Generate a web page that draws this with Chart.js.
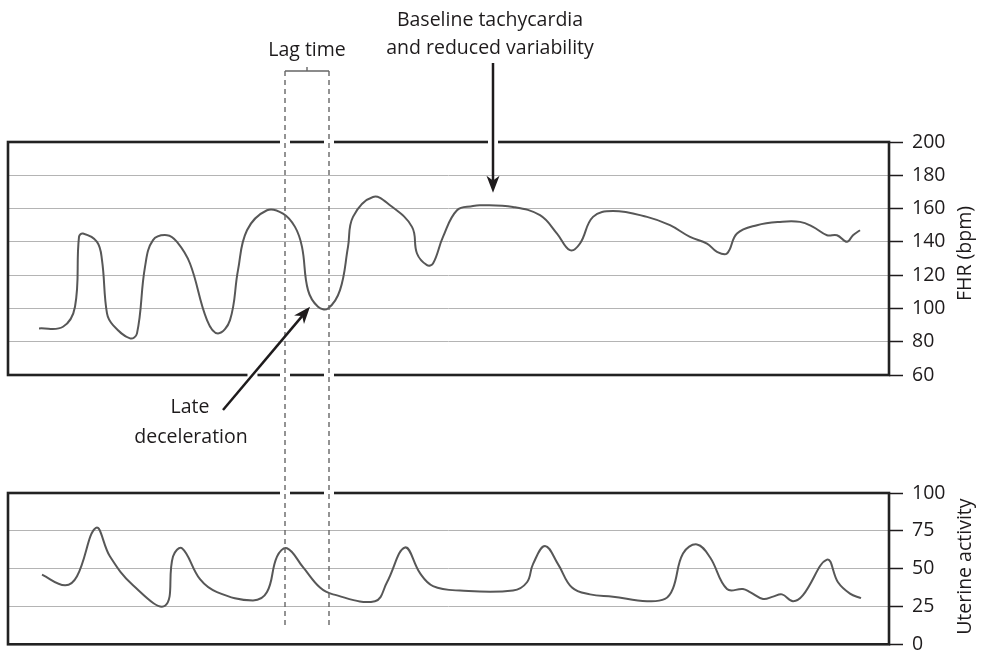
<!DOCTYPE html>
<html>
<head>
<meta charset="utf-8">
<script src="https://cdn.jsdelivr.net/npm/chart.js@4"></script>
<style>
html, body { margin: 0; padding: 0; background: #fff; }
#wrap { position: relative; width: 986px; height: 665px; }
canvas { position: absolute; left: 0; }
#fhr { top: 0; }
#ua { top: 400px; }
#notes { top: 0; pointer-events: none; }
</style>
</head>
<body>
<div id="wrap">
  <canvas id="fhr" width="986" height="400"></canvas>
  <canvas id="ua" width="986" height="265"></canvas>
  <canvas id="notes" width="986" height="665"></canvas>
</div>
<script>
// strip time in arbitrary paper units (0 = left edge of the trace)
const fhrTime = [31, 55, 67, 71, 75, 89, 94, 99, 105, 122, 129, 137, 145, 159, 169, 182, 199, 210, 222, 230,
    239, 259, 275, 287, 294, 300, 310, 320, 332, 340, 345, 365, 382, 404, 409, 419, 425, 435, 449, 465,
    472, 505, 532, 549, 562, 572, 585, 605, 639, 662, 682, 699, 709, 719, 729, 749, 772, 792, 805, 819,
    829, 839, 845, 852];
const fhrBpm = [88, 89, 101, 143, 145, 140, 129, 97, 90, 82, 85, 125, 141, 144, 140, 127, 93, 85, 93, 123,
    147, 159, 157, 149, 137, 111, 101, 100, 111, 137, 155, 167, 162, 149, 133, 126, 127, 143, 159, 161.5,
    162, 161, 156, 145, 135, 139, 155, 158.5, 155, 150, 143, 139, 134, 133, 145, 150, 152, 152, 149, 144,
    144, 140, 144, 147];

const uaTime = [34, 57, 69, 88, 102, 125, 157, 165, 174, 192, 209, 245, 259, 269, 279, 295, 312, 325, 367, 379,
    397, 412, 425, 452, 505, 519, 525, 537, 550, 564, 582, 605, 639, 657, 665, 675, 689, 702, 719, 735,
    742, 755, 765, 774, 785, 795, 819, 830, 842, 853];
const uaLevel = [46, 39, 45, 77, 58, 39, 25.5, 58, 63.5, 43, 34.5, 29, 34.5, 58, 63.5, 51, 37.5, 33, 28.5, 41,
    64, 47, 38.5, 35.5, 35.5, 41, 53, 65, 53, 37.5, 33, 31.5, 28.5, 30, 37, 60, 66, 57.5, 36.5, 36.5,
    34.5, 30, 31.5, 33, 28.5, 32.5, 56, 41, 33.5, 30.5];

const fhrTicks = [60, 80, 100, 120, 140, 160, 180, 200];
const uaTicks = [0, 25, 50, 75, 100];

// lag time bracket: contraction peak and fetal heart rate nadir
const lagFrom = 277;
const lagTo = 321;

const ink = '#1e1b1c';
const traceColor = '#575757';
const font = { family: 'Open Sans', size: 19.5 };

function makeChart(id, times, values, ticks, pad) {
    return new Chart(document.getElementById(id), {
        type: 'line',
        data: {
            datasets: [{
                data: times.map((t, i) => ({ x: t, y: values[i] })),
                borderColor: traceColor,
                borderWidth: 2,
                pointRadius: 0,
                tension: 0.4,
                fill: false
            }]
        },
        options: {
            responsive: false,
            animation: false,
            events: [],
            layout: { padding: pad },
            plugins: { legend: { display: false }, tooltip: { enabled: false } },
            scales: {
                x: { type: 'linear', min: 0, max: 881, display: false },
                y: {
                    type: 'linear',
                    position: 'right',
                    min: ticks[0],
                    max: ticks[ticks.length - 1],
                    afterBuildTicks: s => { s.ticks = ticks.map(v => ({ value: v })); },
                    afterFit: s => { s.width = 97; },
                    border: { display: false },
                    grid: {
                        color: '#b4b4b4',
                        lineWidth: 1,
                        tickColor: ink,
                        tickLength: 14,
                        tickWidth: 1.5
                    },
                    ticks: { color: ink, font: font, padding: 9 }
                }
            }
        }
    });
}

const fhrChart = makeChart('fhr', fhrTime, fhrBpm, fhrTicks, { left: 8, top: 142, right: 0, bottom: 25 });
const uaChart = makeChart('ua', uaTime, uaLevel, uaTicks, { left: 8, top: 93, right: 0, bottom: 14 });

// annotations on a canvas laid over both strips
const ctx = document.getElementById('notes').getContext('2d');
const uaTop = 400;
const fx = v => fhrChart.scales.x.getPixelForValue(v);
const fy = v => fhrChart.scales.y.getPixelForValue(v);
const uy = v => uaTop + uaChart.scales.y.getPixelForValue(v);

function drawBox(area, off) {
    ctx.strokeStyle = '#222';
    ctx.lineWidth = 2.6;
    ctx.strokeRect(area.left, area.top + off, area.right - area.left, area.bottom - area.top);
}

function gap(x, y) {
    ctx.fillStyle = '#fff';
    ctx.fillRect(x - 5, y - 3, 10, 6);
}

function arrow(x1, y1, x2, y2) {
    const a = Math.atan2(y2 - y1, x2 - x1);
    const head = 17, half = 6.5;
    ctx.strokeStyle = ink;
    ctx.fillStyle = ink;
    ctx.lineWidth = 2.5;
    ctx.setLineDash([]);
    ctx.beginPath();
    ctx.moveTo(x1, y1);
    ctx.lineTo(x2 - Math.cos(a) * head * 0.7, y2 - Math.sin(a) * head * 0.7);
    ctx.stroke();
    ctx.save();
    ctx.translate(x2, y2);
    ctx.rotate(a);
    ctx.beginPath();
    ctx.moveTo(0, 0);
    ctx.lineTo(-head, -half);
    ctx.lineTo(-head * 0.72, 0);
    ctx.lineTo(-head, half);
    ctx.closePath();
    ctx.fill();
    ctx.restore();
}

function text(str, x, y) {
    ctx.fillStyle = ink;
    ctx.font = '19.5px "Open Sans"';
    ctx.textAlign = 'center';
    ctx.textBaseline = 'alphabetic';
    ctx.fillText(str, x, y);
}

function axisTitle(str, x, yMid) {
    ctx.save();
    ctx.translate(x, yMid);
    ctx.rotate(-Math.PI / 2);
    ctx.fillStyle = ink;
    ctx.font = '19.5px "Open Sans"';
    ctx.textAlign = 'center';
    ctx.textBaseline = 'middle';
    ctx.fillText(str, 0, 0);
    ctx.restore();
}

const a1 = fhrChart.chartArea;
const a2 = uaChart.chartArea;
drawBox(a1, 0);
drawBox(a2, uaTop);

// lag time bracket and dashed guides
const lx1 = fx(lagFrom), lx2 = fx(lagTo);
const bracketY = a1.top - 71;
const guideEnd = uy(12);
[lx1, lx2].forEach(x => {
    gap(x, a1.top); gap(x, a1.bottom); gap(x, a2.top + uaTop);
});
ctx.strokeStyle = '#666';
ctx.lineWidth = 1.4;
ctx.setLineDash([]);
ctx.beginPath();
ctx.moveTo(lx1, bracketY); ctx.lineTo(lx2, bracketY);
ctx.moveTo((lx1 + lx2) / 2, bracketY); ctx.lineTo((lx1 + lx2) / 2, bracketY - 4);
ctx.stroke();
ctx.setLineDash([5, 4]);
ctx.beginPath();
ctx.moveTo(lx1, bracketY); ctx.lineTo(lx1, guideEnd);
ctx.moveTo(lx2, bracketY); ctx.lineTo(lx2, guideEnd);
ctx.stroke();
ctx.setLineDash([]);
text('Lag time', (lx1 + lx2) / 2, bracketY - 15);

// baseline tachycardia arrow
const tx = fx(485);
gap(tx, a1.top);
arrow(tx, a1.top - 79, tx, fy(169.5));
text('Baseline tachycardia', tx - 3, a1.top - 116);
text('and reduced variability', tx - 3, a1.top - 88);

// late deceleration arrow
const sx = fx(215), sy = fy(39), ex = fx(302), ey = fy(101);
const cross = sx + (ex - sx) * (sy - a1.bottom) / (sy - ey);
gap(cross, a1.bottom);
arrow(sx, sy, ex, ey);
text('Late', fx(182), 413);
text('deceleration', fx(183), 443);

axisTitle('FHR (bpm)', 965, (a1.top + a1.bottom) / 2 - 5);
axisTitle('Uterine activity', 965, uaTop + (a2.top + a2.bottom) / 2 - 2);
</script>
</body>
</html>
